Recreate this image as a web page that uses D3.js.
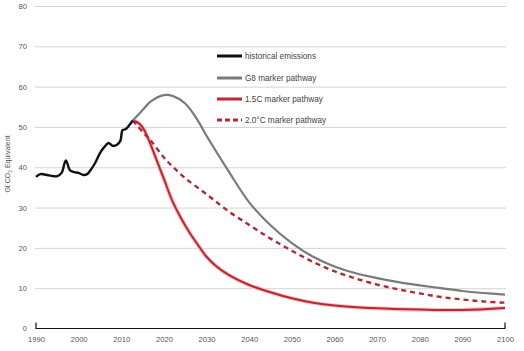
<!DOCTYPE html>
<html lang="en">
<head>
<meta charset="utf-8">
<title>Emission pathways</title>
<script src="https://d3js.org/d3.v7.min.js"></script>
<style>
  body { margin: 0; background: #fff; }
  text { font-family: "Liberation Sans", Arial, sans-serif; }
</style>
<script>
  // data (Gt CO2 equivalent)
  const histYears  = [1990, 1991, 1992, 1993, 1994, 1995, 1996, 1997, 1998, 1999, 2000, 2001, 2002, 2003, 2004, 2005, 2006, 2007, 2008, 2009, 2009.8, 2010.3, 2011, 2012, 2012.7];
  const histValues = [37.6, 38.3, 38.2, 38.0, 37.8, 37.8, 38.6, 41.7, 39.2, 38.8, 38.6, 38.1, 38.3, 39.6, 41.3, 43.5, 45.0, 46.0, 45.3, 45.6, 46.6, 49.2, 49.4, 50.6, 51.6];

  const g8Years  = [2012.7, 2015, 2017, 2020, 2022, 2025, 2028, 2030, 2035, 2040, 2045, 2050, 2055, 2060, 2065, 2070, 2075, 2080, 2085, 2090, 2095, 2100];
  const g8Values = [51.6, 54.2, 56.4, 57.9, 57.7, 55.8, 51.5, 47.8, 39.3, 31.3, 25.6, 21.2, 17.8, 15.4, 13.7, 12.5, 11.5, 10.7, 10.0, 9.3, 8.8, 8.4];

  const p15Years  = [2012.7, 2014, 2015, 2016, 2018, 2020, 2022, 2024, 2026, 2028, 2030, 2032, 2035, 2040, 2045, 2050, 2055, 2060, 2070, 2080, 2090, 2100];
  const p15Values = [51.6, 51.0, 49.9, 47.9, 42.6, 37.1, 31.6, 27.4, 23.8, 20.7, 17.8, 15.7, 13.4, 10.8, 9.0, 7.5, 6.4, 5.7, 5.0, 4.7, 4.6, 5.1];

  const p20Years  = [2012.7, 2015, 2017, 2020, 2022, 2025, 2030, 2035, 2040, 2045, 2050, 2055, 2060, 2065, 2070, 2075, 2080, 2085, 2090, 2095, 2100];
  const p20Values = [51.6, 48.8, 46.5, 42.4, 40.2, 37.3, 33.3, 29.2, 25.7, 22.3, 19.3, 16.5, 14.2, 12.4, 10.9, 9.7, 8.7, 7.8, 7.2, 6.7, 6.4];

  const yTicks = [0, 10, 20, 30, 40, 50, 60, 70, 80];
  const xTicks = [1990, 2000, 2010, 2020, 2030, 2040, 2050, 2060, 2070, 2080, 2090, 2100];

  const legendLabels = ["historical emissions", "G8 marker pathway", "1.5C marker pathway", "2.0\u00B0C marker pathway"];
</script>
</head>
<body>
<script>
  const width = 524, height = 351;
  const plotLeft = 36, plotRight = 505, plotTop = 6, plotBottom = 328.5;

  const svg = d3.select("body").append("svg")
    .attr("width", width).attr("height", height);

  const x = d3.scaleLinear().domain([1990, 2100]).range([plotLeft, plotRight]);
  const y = d3.scaleLinear().domain([0, 80]).range([plotBottom, plotTop]);

  // gridlines + y labels
  const yAxis = d3.axisLeft(y).tickValues(yTicks).tickSize(-(plotRight - plotLeft + 2)).tickPadding(8);
  const gy = svg.append("g").attr("transform", "translate(" + (plotLeft - 1) + ",0)").call(yAxis);
  gy.select(".domain").remove();
  gy.selectAll(".tick line").attr("stroke", "#d4d4d4").attr("stroke-width", 1)
    .filter(d => d === 0).remove();
  gy.selectAll(".tick text").attr("font-size", "7.6px").attr("fill", "#555");

  // x axis
  const xAxis = d3.axisBottom(x).tickValues(xTicks).tickSize(0).tickPadding(8).tickFormat(d3.format("d"));
  const gx = svg.append("g").attr("transform", "translate(0," + plotBottom + ")").call(xAxis);
  gx.select(".domain").remove();
  gx.selectAll(".tick text").attr("font-size", "7.6px").attr("fill", "#555");
  svg.append("path")
    .attr("d", "M" + x(1990) + "," + (plotBottom - 6) + "V" + plotBottom + "H" + x(2100) + "V" + (plotBottom - 6))
    .attr("fill", "none").attr("stroke", "#111").attr("stroke-width", 1.2);

  // y axis title
  const title = svg.append("text")
    .attr("transform", "translate(10,164) rotate(-90)")
    .attr("text-anchor", "middle")
    .attr("font-size", "7px").attr("fill", "#555");
  title.append("tspan").text("Gt CO");
  title.append("tspan").attr("font-size", "4.8px").attr("dy", 1.5).text("2");
  title.append("tspan").attr("dy", -1.5).text(" Equivalent");

  const line = d3.line().x(d => x(d[0])).y(d => y(d[1])).curve(d3.curveCatmullRom.alpha(0.5));
  const zip = (a, b) => a.map((v, i) => [v, b[i]]);

  // 1.5C (with soft halo)
  svg.append("path").datum(zip(p15Years, p15Values)).attr("d", line)
    .attr("fill", "none").attr("stroke", "#f6c4c6").attr("stroke-width", 4.2);
  svg.append("path").datum(zip(p15Years, p15Values)).attr("d", line)
    .attr("fill", "none").attr("stroke", "#bd2530").attr("stroke-width", 2);

  // 2.0C dashed
  svg.append("path").datum(zip(p20Years, p20Values)).attr("d", line)
    .attr("fill", "none").attr("stroke", "#b02a33").attr("stroke-width", 2.4)
    .attr("stroke-dasharray", "5,4");

  // G8
  svg.append("path").datum(zip(g8Years, g8Values)).attr("d", line)
    .attr("fill", "none").attr("stroke", "#7a7a7a").attr("stroke-width", 2.2);

  // historical
  svg.append("path").datum(zip(histYears, histValues)).attr("d", line)
    .attr("fill", "none").attr("stroke", "#111").attr("stroke-width", 2.4)
    .attr("stroke-linejoin", "round");

  // legend
  const legendStyles = [
    { color: "#111", dash: null, w: 3 },
    { color: "#7a7a7a", dash: null, w: 3 },
    { color: "#c1272d", dash: null, w: 3 },
    { color: "#b02a33", dash: "5,3", w: 3 }
  ];
  const legendY = [56, 78, 99, 120];
  const lg = svg.append("g");
  legendLabels.forEach((label, i) => {
    lg.append("line")
      .attr("x1", 217).attr("x2", 242)
      .attr("y1", legendY[i]).attr("y2", legendY[i])
      .attr("stroke", legendStyles[i].color)
      .attr("stroke-width", legendStyles[i].w)
      .attr("stroke-dasharray", legendStyles[i].dash);
    lg.append("text")
      .attr("x", 245).attr("y", legendY[i] + 3)
      .attr("font-size", "8.2px").attr("fill", "#444")
      .text(label);
  });
</script>
</body>
</html>
